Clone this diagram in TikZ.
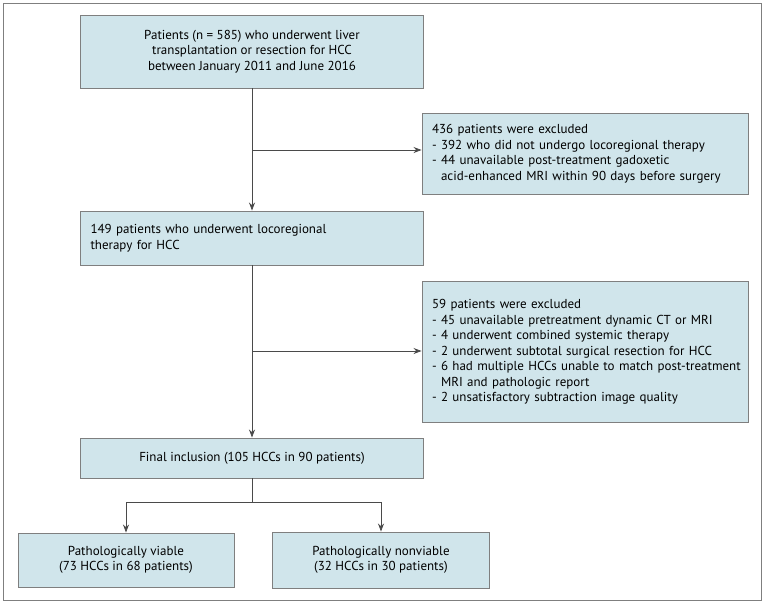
\documentclass[tikz,border=0pt]{standalone}
\usepackage{fontspec}
\setmainfont{PT Sans}
\usetikzlibrary{positioning,arrows.meta}

\definecolor{boxfill}{HTML}{D0E5EB}
\definecolor{boxline}{HTML}{7F7F7F}
\definecolor{wire}{HTML}{4A4A4A}

\tikzset{
	flowbox/.style={draw=boxline, fill=boxfill, line width=0.9pt, inner sep=0pt,
		font=\fontsize{13}{15.5}\selectfont},
	midbox/.style={flowbox, align=center},
	listbox/.style={flowbox, align=left, inner xsep=10pt},
	link/.style={draw=wire, line width=0.8pt, -{Stealth[length=8pt,width=6pt]}}
}
\newcommand{\hangind}{\phantom{- }}

\begin{document}
\begin{tikzpicture}[x=1pt,y=-1pt]
	\useasboundingbox (0,0) rectangle (764,603);
	%\draw[help lines] (0,0) grid (764,603);

	\draw[boxline, line width=0.8pt] (3,3) rectangle (761,600);

	\node[midbox, minimum width=343pt, minimum height=73pt] (all) at (252,51.5)
		{Patients (n = 585) who underwent liver\\
		 transplantation or resection for HCC\\
		 between January 2011 and June 2016};

	\node[listbox, text width=306pt, minimum height=81pt] (excl1) at (585,153.5)
		{436 patients were excluded\\
		 - 392 who did not undergo locoregional therapy\\
		 - 44 unavailable post-treatment gadoxetic\\
		 \hangind acid-enhanced MRI within 90 days before surgery};

	\node[listbox, text width=323pt, minimum height=54pt] (loco) at (252,238)
		{149 patients who underwent locoregional\\
		 therapy for HCC};

	\node[listbox, text width=306pt, minimum height=141pt] (excl2) at (585,352)
		{59 patients were excluded\\
		 - 45 unavailable pretreatment dynamic CT or MRI\\
		 - 4 underwent combined systemic therapy\\
		 - 2 underwent subtotal surgical resection for HCC\\
		 \mbox{- 6 had multiple HCCs unable to match post-treatment}\\
		 \hangind MRI and pathologic report\\
		 - 2 unsatisfactory subtraction image quality};

	\node[midbox, minimum width=343pt, minimum height=40pt] (final) at (252,458)
		{Final inclusion (105 HCCs in 90 patients)};

	\node[midbox, minimum width=216pt, minimum height=54pt] (viable) at (126,560)
		{Pathologically viable\\(73 HCCs in 68 patients)};
	\node[midbox, minimum width=217pt, minimum height=56pt] (nonviable) at (381,560)
		{Pathologically nonviable\\(32 HCCs in 30 patients)};

	% main stream
	\draw[link] (all.south) -- (loco.north);
	\draw[link] (loco.south) -- (final.north);

	% exclusions
	\coordinate (split1) at (252,150);
	\coordinate (split2) at (252,351);
	\draw[link] (split1) -- (split1 -| excl1.west);
	\draw[link] (split2) -- (split2 -| excl2.west);

	% pathology
	\coordinate (fork) at (252,502);
	\draw[draw=wire, line width=0.8pt] (final.south) -- (fork);
	\draw[link] (fork) -| (viable.north);
	\draw[link] (fork) -| (nonviable.north);
\end{tikzpicture}
\end{document}
